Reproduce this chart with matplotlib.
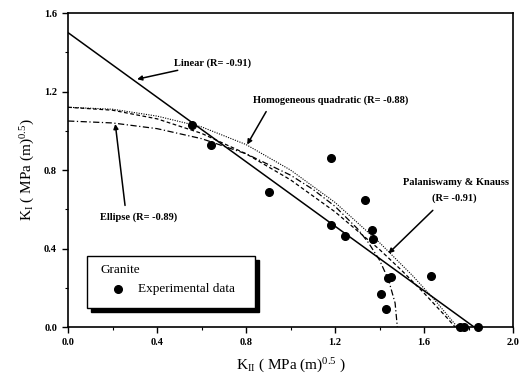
import matplotlib
matplotlib.use("Agg")
import matplotlib.pyplot as plt
from matplotlib.patches import Rectangle

plt.rcParams['font.family'] = ['Liberation Serif', 'DejaVu Serif']
plt.rcParams['mathtext.fontset'] = 'custom'
plt.rcParams['mathtext.rm'] = 'Liberation Serif'
plt.rcParams['mathtext.it'] = 'Liberation Serif'

# Experimental data (K_II, K_I)
exp_kii = [0.557, 0.643, 0.903, 1.182, 1.182, 1.245, 1.335, 1.366, 1.371,
           1.440, 1.452, 1.631, 1.405, 1.429, 1.760, 1.780, 1.843]
exp_ki = [1.029, 0.927, 0.688, 0.861, 0.520, 0.464, 0.647, 0.494, 0.448,
          0.250, 0.255, 0.258, 0.168, 0.092, 0.0, 0.0, 0.0]

# Criterion curves
lin_kii = [0.0, 1.825]
lin_ki = [1.50, 0.0]

ell_kii = [0.0, 0.2, 0.4, 0.6, 0.8, 1.0, 1.1, 1.2, 1.3, 1.35, 1.4, 1.44, 1.47, 1.48]
ell_ki = [1.05, 1.040, 1.011, 0.960, 0.883, 0.774, 0.702, 0.615, 0.502, 0.430,
          0.341, 0.242, 0.122, 0.0]

hq_kii = [0.0, 0.2, 0.4, 0.6, 0.8, 1.0, 1.2, 1.4, 1.55, 1.65, 1.75]
hq_ki = [1.12, 1.11, 1.075, 1.02, 0.93, 0.80, 0.635, 0.43, 0.26, 0.135, 0.0]

pk_kii = [0.0, 0.2, 0.4, 0.6, 0.8, 1.0, 1.2, 1.4, 1.5, 1.6, 1.7, 1.74]
pk_ki = [1.12, 1.105, 1.061, 0.987, 0.883, 0.750, 0.587, 0.395, 0.288, 0.173, 0.051, 0.0]

fig = plt.figure(figsize=(5.24, 3.85), dpi=100)
ax = fig.add_axes([0.130, 0.1506, 0.849, 0.8154])

ax.plot(lin_kii, lin_ki, color='black', lw=1.1, ls='-')
ax.plot(ell_kii, ell_ki, color='black', lw=0.9, ls=(0, (5, 2, 1, 2)))
ax.plot(hq_kii, hq_ki, color='black', lw=0.8, ls=(0, (1, 1.2)))
ax.plot(pk_kii, pk_ki, color='black', lw=0.9, ls=(0, (3, 2)))
ax.plot(exp_kii, exp_ki, 'o', color='black', ms=5.5, clip_on=False, zorder=5)

ax.set_xlim(0, 2.0)
ax.set_ylim(0, 1.6)
ax.set_xticks([0.0, 0.4, 0.8, 1.2, 1.6, 2.0])
ax.set_yticks([0.0, 0.4, 0.8, 1.2, 1.6])
ax.set_xticks([0.2, 0.6, 1.0, 1.4, 1.8], minor=True)
ax.set_yticks([0.2, 0.6, 1.0, 1.4], minor=True)
ax.set_xticklabels(['0.0', '0.4', '0.8', '1.2', '1.6', '2.0'], fontweight='bold', fontsize=7.5)
ax.set_yticklabels(['0.0', '0.4', '0.8', '1.2', '1.6'], fontweight='bold', fontsize=7.5)
ax.tick_params(which='major', direction='out', length=4, width=1, pad=4)
ax.tick_params(which='minor', direction='out', length=2, width=0.8)
for s in ax.spines.values():
    s.set_linewidth(1.2)

ax.set_xlabel(r'K$_{\mathrm{II}}$ ( MPa (m)$^{0.5}$ )', fontsize=11, labelpad=7)
ax.set_ylabel(r'K$_{\mathrm{I}}$ ( MPa (m)$^{0.5}$)', fontsize=11, labelpad=5)

fs = 7.5
ax.annotate('Linear (R= -0.91)', xy=(0.31, 1.263), xytext=(0.475, 1.347),
            fontsize=fs, fontweight='bold', va='center', ha='left',
            arrowprops=dict(arrowstyle='-|>', color='black', lw=1.1,
                            mutation_scale=7, shrinkA=0, shrinkB=0))
ax.annotate('Homogeneous quadratic (R= -0.88)', xy=(0.805, 0.93), xytext=(0.83, 1.155),
            fontsize=fs, fontweight='bold', va='center', ha='left',
            arrowprops=dict(arrowstyle='-|>', color='black', lw=1.1,
                            mutation_scale=7, shrinkA=3, shrinkB=0,
                            relpos=(0.11, 0.0)))
ax.annotate('Ellipse (R= -0.89)', xy=(0.212, 1.035), xytext=(0.145, 0.56),
            fontsize=fs, fontweight='bold', va='center', ha='left',
            arrowprops=dict(arrowstyle='-|>', color='black', lw=1.1,
                            mutation_scale=7, shrinkA=3, shrinkB=0,
                            relpos=(0.33, 1.0)))
ax.text(1.98, 0.735, 'Palaniswamy & Knauss', fontsize=fs, fontweight='bold',
        va='center', ha='right')
ax.annotate('(R= -0.91)', xy=(1.44, 0.375), xytext=(1.735, 0.658),
            fontsize=fs, fontweight='bold', va='center', ha='center',
            arrowprops=dict(arrowstyle='-|>', color='black', lw=1.1,
                            mutation_scale=7, shrinkA=5, shrinkB=0,
                            relpos=(0.2, 0.0)))

# Legend box with shadow
x0, y0, w, h = 0.085, 0.098, 0.755, 0.262
ax.add_patch(Rectangle((x0 + 0.016, y0 - 0.02), w, h, facecolor='black',
                       edgecolor='black', zorder=6))
ax.add_patch(Rectangle((x0, y0), w, h, facecolor='white', edgecolor='black',
                       lw=1.0, zorder=7))
ax.text(0.145, 0.29, 'Granite', fontsize=9.5, zorder=8, va='center', ha='left')
ax.plot([0.225], [0.195], 'o', color='black', ms=5.5, zorder=8)
ax.text(0.315, 0.195, 'Experimental data', fontsize=9.5, zorder=8, va='center', ha='left')

fig.savefig('out.png', dpi=100)
